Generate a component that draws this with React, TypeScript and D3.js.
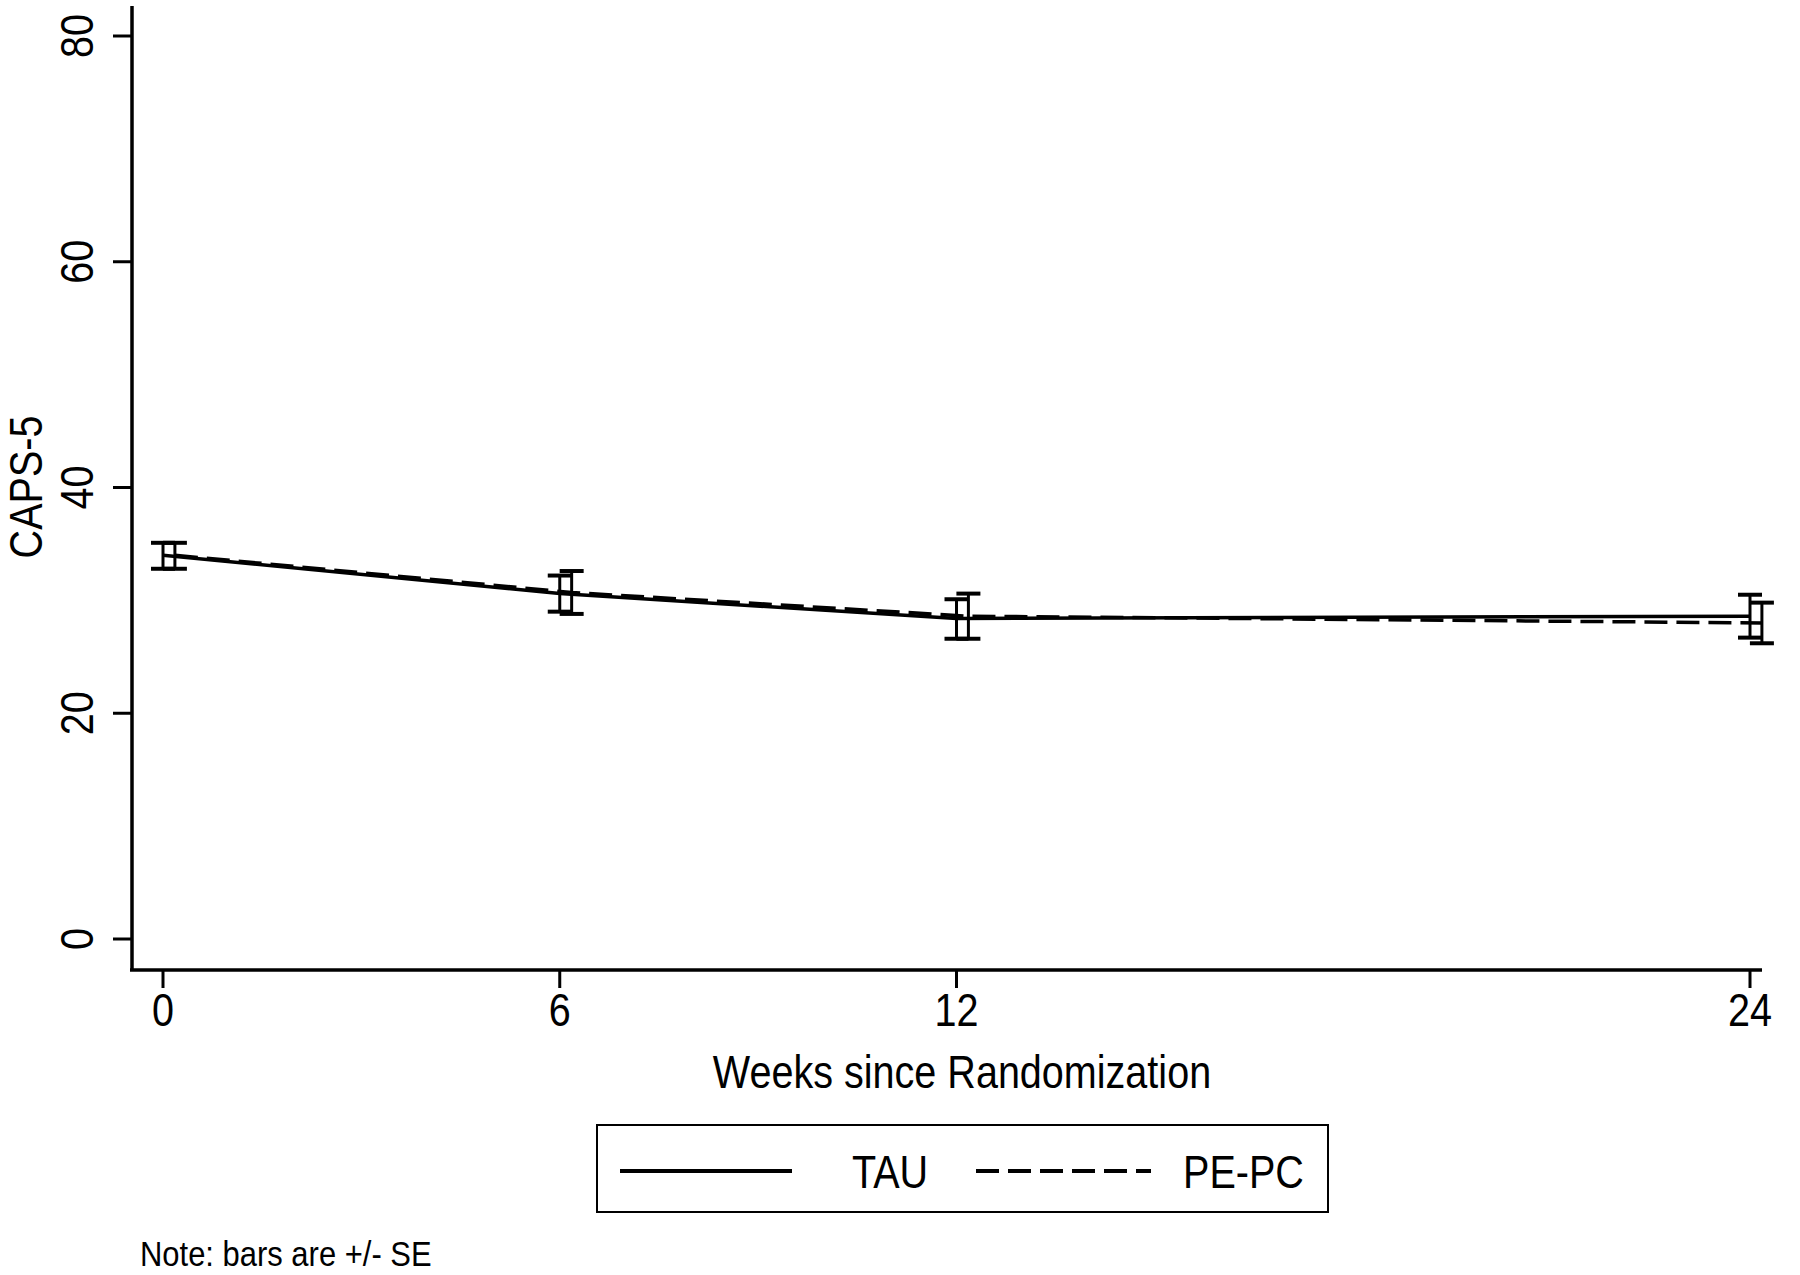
import React from 'react';
import * as d3 from 'd3';

// weeks since randomization
const weeks = [0, 6, 12, 24];

// TAU (solid) means and +/- SE bounds
const tauMean = [34.0, 30.6, 28.4, 28.6];
const tauLow = [32.8, 29.0, 26.6, 26.7];
const tauHigh = [35.1, 32.2, 30.1, 30.5];

// PE-PC (dashed) means and +/- SE bounds
const pepcMean = [34.0, 30.7, 28.6, 28.0];
const pepcLow = [32.8, 28.8, 26.6, 26.2];
const pepcHigh = [35.1, 32.6, 30.6, 29.8];

const yTicks = [0, 20, 40, 60, 80];
const xTicks = [0, 6, 12, 24];

const FONT = '"Liberation Sans", Arial, sans-serif';
const NARROW = 0.86; // squeeze to look like Arial Narrow

const width = 1800;
const height = 1275;

// narrow text helper: place at (x, y), optional rotation
const NText = ({ x, y, rotate = 0, anchor = 'start', size = 46, dy = '0', children }: any) => (
  <text
    transform={ `translate(${x}, ${y}) rotate(${rotate}) scale(${NARROW}, 1)` }
    textAnchor={ anchor }
    dy={ dy }
    fontFamily={ FONT }
    fontSize={ size }
    fill="#000">
    { children }
  </text>
);

const App = () => {
  const x = d3.scaleLinear().domain([0, 24]).range([163, 1750]);
  const y = d3.scaleLinear().domain([0, 80]).range([939, 36]);
  const dodge = 0.18; // PE-PC drawn slightly right of TAU

  const series = [
    { name: 'TAU', mean: tauMean, low: tauLow, high: tauHigh, shift: 0, dash: null },
    { name: 'PE-PC', mean: pepcMean, low: pepcLow, high: pepcHigh, shift: dodge, dash: '23 9' },
  ];

  const line = d3.line<[number, number]>()
    .x(d => d[0])
    .y(d => d[1]);

  const cap = 12;

  return (
    <svg width={ width } height={ height } style={{ display: 'block', position: 'absolute', left: 0, top: 0 }}>
      <rect width={ width } height={ height } fill="#fff" />

      {/* axes */}
      <line x1={ 132 } x2={ 132 } y1={ 6 } y2={ 971 } stroke="#000" strokeWidth={ 3.5 } />
      <line x1={ 130 } x2={ 1762 } y1={ 970 } y2={ 970 } stroke="#000" strokeWidth={ 3.5 } />

      { yTicks.map(t => (
        <g key={ `y${t}` }>
          <line x1={ 113 } x2={ 132 } y1={ y(t) } y2={ y(t) } stroke="#000" strokeWidth={ 3 } />
          <NText x={ 76 } y={ y(t) } rotate={ -90 } anchor="middle" dy="0.36em">{ t }</NText>
        </g>
      )) }

      { xTicks.map(t => (
        <g key={ `x${t}` }>
          <line x1={ x(t) } x2={ x(t) } y1={ 970 } y2={ 988 } stroke="#000" strokeWidth={ 3 } />
          <NText x={ x(t) } y={ 1026 } anchor="middle">{ t }</NText>
        </g>
      )) }

      <NText x={ 25 } y={ 487 } rotate={ -90 } anchor="middle" dy="0.36em">CAPS-5</NText>
      <NText x={ 962 } y={ 1088 } anchor="middle">Weeks since Randomization</NText>

      {/* series */}
      { series.map(s => (
        <g key={ s.name }>
          <path
            d={ line(weeks.map((w, i) => [x(w + s.shift), y(s.mean[i])]) as [number, number][]) || '' }
            fill="none"
            stroke="#000"
            strokeWidth={ 3.5 }
            strokeDasharray={ s.dash || undefined } />
          { weeks.map((w, i) => {
            const cx = x(w + s.shift);
            return (
              <g key={ `${s.name}-${w}` }>
                <line x1={ cx } x2={ cx } y1={ y(s.low[i]) } y2={ y(s.high[i]) } stroke="#000" strokeWidth={ 3 } />
                <line x1={ cx - cap } x2={ cx + cap } y1={ y(s.low[i]) } y2={ y(s.low[i]) } stroke="#000" strokeWidth={ 4 } />
                <line x1={ cx - cap } x2={ cx + cap } y1={ y(s.high[i]) } y2={ y(s.high[i]) } stroke="#000" strokeWidth={ 4 } />
              </g>
            );
          }) }
        </g>
      )) }

      {/* legend */}
      <rect x={ 597 } y={ 1125 } width={ 731 } height={ 87 } fill="#fff" stroke="#000" strokeWidth={ 2 } />
      <line x1={ 620 } x2={ 792 } y1={ 1171 } y2={ 1171 } stroke="#000" strokeWidth={ 4 } />
      <NText x={ 852 } y={ 1171 } dy="0.36em">TAU</NText>
      <line x1={ 976 } x2={ 1151 } y1={ 1171 } y2={ 1171 } stroke="#000" strokeWidth={ 4 } strokeDasharray="23 9" />
      <NText x={ 1183 } y={ 1171 } dy="0.36em">PE-PC</NText>

      <NText x={ 140 } y={ 1266 } size={ 36 }>Note: bars are +/- SE</NText>
    </svg>
  );
};

export default App;
